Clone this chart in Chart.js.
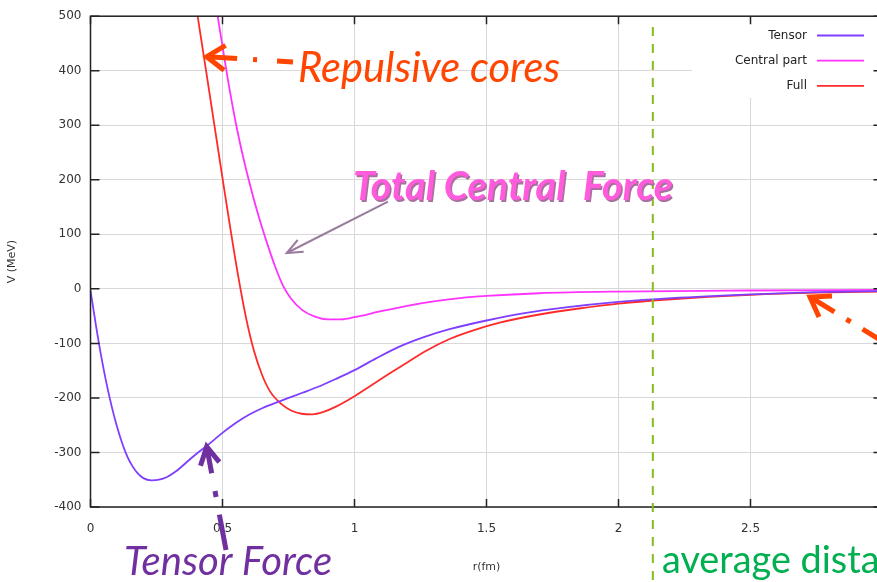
<!DOCTYPE html>
<html>
<head>
<meta charset="utf-8">
<script src="https://cdn.jsdelivr.net/npm/chart.js@4.4.1/dist/chart.umd.min.js"></script>
<style>
  html, body { margin: 0; padding: 0; background: #fff; overflow: hidden; }
  #wrap { position: relative; width: 900px; height: 582px; }
</style>
</head>
<body>
<div id="wrap"><canvas id="myChart"></canvas></div>
<script>
"use strict";

// r in fm, V in MeV
const tensorR = [0, 0.02, 0.04, 0.06, 0.08, 0.1, 0.12, 0.14, 0.16, 0.18, 0.2, 0.23, 0.26, 0.29, 0.32, 0.35, 0.38, 0.41, 0.44, 0.47, 0.5, 0.55, 0.6, 0.65, 0.7, 0.75, 0.8, 0.86, 0.93, 1.0, 1.08, 1.17, 1.26, 1.36, 1.5, 1.65, 1.8, 2.0, 2.2, 2.5, 2.75, 3.0];
const tensorV = [-3, -65, -122, -172, -215, -252, -283, -308, -326, -339, -347, -351, -350, -345, -336, -324, -311, -299, -288, -276, -264, -246, -231, -219, -209, -200, -191, -180, -165, -149, -128, -106, -89, -74, -58, -44, -34, -24, -17, -10, -6, -4];

const centralR = [0.47, 0.482, 0.5, 0.52, 0.55, 0.58, 0.61, 0.64, 0.67, 0.7, 0.73, 0.76, 0.8, 0.85, 0.9, 0.95, 1.0, 1.1, 1.2, 1.3, 1.4, 1.5, 1.7, 2.0, 2.5, 3.0];
const centralV = [545, 500, 445, 385, 305, 238, 180, 128, 82, 40, 5, -18, -38, -51, -56, -56, -52, -41, -31, -23, -17, -13, -8, -5, -3, -2];

const fullR = [0.395, 0.41, 0.44, 0.47, 0.5, 0.53, 0.56, 0.59, 0.62, 0.65, 0.68, 0.72, 0.76, 0.8, 0.84, 0.88, 0.93, 1.0, 1.07, 1.14, 1.2, 1.27, 1.36, 1.45, 1.55, 1.7, 1.85, 2.0, 2.2, 2.5, 2.75, 3.0];
const fullV = [535, 487, 393, 298, 203, 110, 22, -55, -115, -158, -188, -210, -223, -229, -230, -226, -216, -197, -175, -153, -135, -114, -92, -76, -62, -47, -36, -27, -19, -11, -7, -5];

const seriesLabels = ["Tensor", "Central part", "Full"];
const seriesColors = ["#7f3fff", "#ff33ff", "#ff2a2a"];

const xMin = 0, xMax = 3, xStep = 0.5;
const yMin = -400, yMax = 500, yStep = 100;
const avgDistance = 2.13; // green dashed marker, fm

function toPoints(rs, vs) {
  return rs.map((r, i) => ({ x: r, y: vs[i] }));
}

function fitFont(ctx, text, style, family, width) {
  ctx.font = style + " 100px " + family;
  const w = ctx.measureText(text).width;
  return style + " " + (100 * width / w).toFixed(1) + "px " + family;
}

function dashedArrow(ctx, tail, tip, dash, color, lw, headLen, headAng) {
  ctx.save();
  ctx.strokeStyle = color;
  ctx.lineWidth = lw;
  ctx.lineCap = "butt";
  ctx.setLineDash(dash);
  ctx.beginPath();
  ctx.moveTo(tail[0], tail[1]);
  ctx.lineTo(tip[0], tip[1]);
  ctx.stroke();
  ctx.setLineDash([]);
  const a = Math.atan2(tail[1] - tip[1], tail[0] - tip[0]);
  ctx.lineJoin = "miter";
  ctx.beginPath();
  ctx.moveTo(tip[0] + headLen * Math.cos(a + headAng), tip[1] + headLen * Math.sin(a + headAng));
  ctx.lineTo(tip[0], tip[1]);
  ctx.lineTo(tip[0] + headLen * Math.cos(a - headAng), tip[1] + headLen * Math.sin(a - headAng));
  ctx.stroke();
  ctx.restore();
}

const overlay = {
  id: "overlay",
  afterDraw(chart) {
    const ctx = chart.ctx;
    const { left, right, top, bottom } = chart.chartArea;
    const xs = chart.scales.x, ys = chart.scales.y;
    ctx.save();

    // key box
    ctx.fillStyle = "#fff";
    ctx.fillRect(692, top + 1, right - 692, 97 - top);

    // frame + inward ticks
    ctx.strokeStyle = "#222";
    ctx.lineWidth = 1.5;
    ctx.strokeRect(left, top, right - left, bottom - top);
    ctx.beginPath();
    for (let v = yMin; v <= yMax; v += yStep) {
      const py = ys.getPixelForValue(v);
      ctx.moveTo(left, py); ctx.lineTo(left + 9, py);
      ctx.moveTo(right, py); ctx.lineTo(right - 9, py);
    }
    for (let v = xMin; v <= xMax + 1e-9; v += xStep) {
      const px = xs.getPixelForValue(v);
      ctx.moveTo(px, bottom); ctx.lineTo(px, bottom - 8);
      ctx.moveTo(px, top); ctx.lineTo(px, top + 8);
    }
    ctx.stroke();

    // key entries
    ctx.font = "12px 'DejaVu Sans'";
    ctx.textAlign = "right";
    ctx.textBaseline = "middle";
    chart.data.datasets.forEach((ds, i) => {
      const y = 35.5 + i * 25.2;
      ctx.fillStyle = "#222";
      ctx.fillText(ds.label, 807, y);
      ctx.strokeStyle = ds.borderColor;
      ctx.lineWidth = 1.8;
      ctx.beginPath();
      ctx.moveTo(817, y); ctx.lineTo(864, y);
      ctx.stroke();
    });

    // average distance marker
    const ax = xs.getPixelForValue(avgDistance);
    ctx.strokeStyle = "#84bd1a";
    ctx.lineWidth = 2;
    ctx.setLineDash([9, 8]);
    ctx.beginPath();
    ctx.moveTo(ax, 27); ctx.lineTo(ax, chart.height);
    ctx.stroke();
    ctx.setLineDash([]);

    // annotation arrows
    dashedArrow(ctx, [293, 62], [206.7, 56.7], [16, 20, 4, 16, 200, 0], "#ff4500", 5, 22, 0.6);
    dashedArrow(ctx, [895, 349], [810, 297], [38, 14, 5, 14, 200, 0], "#ff4500", 5, 22, 0.6);
    dashedArrow(ctx, [226, 550], [206.7, 446.7], [36, 18, 6, 18, 200, 0], "#7030a0", 5, 20, 0.5);
    dashedArrow(ctx, [388, 201.7], [286.7, 253], [400, 0], "#9a7b9e", 2, 17, 0.4);

    // annotation texts
    ctx.textAlign = "left";
    ctx.textBaseline = "alphabetic";
    ctx.fillStyle = "#ff4500";
    ctx.font = fitFont(ctx, "Repulsive cores", "italic", "Lato", 262);
    ctx.fillText("Repulsive cores", 298, 82);

    const tcf = "Total Central  Force";
    ctx.font = fitFont(ctx, tcf, "italic bold", "Lato", 320);
    ctx.fillStyle = "#a8709f";
    ctx.fillText(tcf, 354.5, 201.5);
    ctx.fillStyle = "#ff5bdc";
    ctx.fillText(tcf, 353, 200);

    ctx.fillStyle = "#7030a0";
    ctx.font = fitFont(ctx, "Tensor Force", "italic", "Lato", 208);
    ctx.fillText("Tensor Force", 124, 575);

    ctx.fillStyle = "#00b050";
    ctx.font = fitFont(ctx, "average", "normal", "Lato", 129);
    ctx.fillText("average distance", 662, 573);

    ctx.restore();
  }
};

const ctx = document.getElementById("myChart");

new Chart(ctx, {
  type: "line",
  data: {
    datasets: [
      { label: seriesLabels[0], data: toPoints(tensorR, tensorV), borderColor: seriesColors[0] },
      { label: seriesLabels[1], data: toPoints(centralR, centralV), borderColor: seriesColors[1] },
      { label: seriesLabels[2], data: toPoints(fullR, fullV), borderColor: seriesColors[2] },
    ],
  },
  options: {
    responsive: true,
    maintainAspectRatio: false,
    animation: false,
    layout: { padding: { left: 0, top: 15.5, right: 17.5, bottom: 0 } },
    elements: {
      point: { radius: 0 },
      line: { borderWidth: 1.8, cubicInterpolationMode: "monotone", fill: false },
    },
    datasets: { line: { clip: 0 } },
    plugins: { legend: { display: false }, tooltip: { enabled: false } },
    scales: {
      x: {
        type: "linear",
        min: xMin,
        max: xMax,
        ticks: {
          stepSize: xStep, padding: 15, color: "#333",
          font: { family: "DejaVu Sans", size: 12 },
          callback: (v) => String(Number(v.toFixed(2))),
        },
        grid: { color: "#d8d8d8", drawTicks: false },
        border: { display: false },
        title: { display: true, text: "r(fm)", color: "#333", font: { family: "DejaVu Sans", size: 11 }, padding: { top: 0, bottom: 8 } },
        afterFit(scale) { scale.height = 75; scale.paddingLeft = 0; scale.paddingRight = 0; },
      },
      y: {
        min: yMin,
        max: yMax,
        ticks: { stepSize: yStep, padding: 9, color: "#333", font: { family: "DejaVu Sans", size: 12 } },
        grid: { color: "#d8d8d8", drawTicks: false },
        border: { display: false },
        title: { display: true, text: "V (MeV)", color: "#333", font: { family: "DejaVu Sans", size: 11 }, padding: { top: 6, bottom: 0 } },
        afterFit(scale) { scale.width = 90.5; },
      },
    },
  },
  plugins: [overlay],
});
</script>
</body>
</html>
